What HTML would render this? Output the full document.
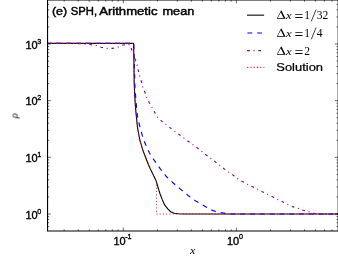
<!DOCTYPE html><html><head><meta charset="utf-8"><style>html,body{margin:0;padding:0;background:#fff}svg{display:block}text{font-family:"Liberation Sans",sans-serif;fill:#000}.s{font-family:"Liberation Serif",serif}</style></head><body>
<svg width="338" height="260" viewBox="0 0 338 260">
<rect width="338" height="260" fill="#fff"/>
<g fill="none" stroke-linejoin="round">
<path d="M47.00 43.40 L133.60 43.40 L133.90 60.00 L134.20 84.00 L135.00 100.00 L135.90 112.00 L137.40 126.80 L139.80 140.00 L143.40 151.80 L148.10 163.70 L150.00 168.30 L153.90 176.30 L156.20 181.00 L158.60 189.30 L160.10 194.00 L162.40 199.90 L164.80 205.20 L167.80 208.80 L170.70 211.75 L174.30 213.20 L178.40 213.80 L183.00 214.00 L338.00 214.00" stroke="#000" stroke-width="1.1"/>
<path d="M47.00 43.40 L133.80 43.40 L134.20 60.00 L135.00 88.00 L135.70 97.00 L136.50 107.00 L137.40 116.10 L139.60 125.60 L142.20 135.10 L145.40 144.10 L149.50 153.00 L154.50 160.70 L160.30 168.80 L166.30 176.50 L173.00 182.80 L180.40 189.10 L188.10 195.50 L195.80 201.10 L204.30 205.90 L212.50 210.40 L217.00 211.80 L221.60 212.70 L226.00 213.50 L230.00 214.00 L338.00 214.00" stroke="#0000ff" stroke-width="1.15" stroke-dasharray="4.9 4.9" stroke-dashoffset="0.50"/>
<path d="M47.00 43.40 L75.00 43.40 L80.00 43.70 L88.00 44.30 L96.50 45.50 L101.00 47.20 L106.80 48.40 L112.80 48.40 L118.00 47.00 L123.00 45.00 L128.50 44.50 L130.30 45.20 L131.50 49.00 L133.30 54.00 L135.30 59.60 L137.10 65.20 L138.40 70.80 L139.80 76.10 L141.30 81.40 L142.80 87.00 L144.90 92.30 L146.70 97.40 L149.00 102.30 L152.00 107.30 L154.70 112.40 L157.50 117.30 L161.40 120.90 L165.70 124.40 L170.40 128.00 L174.90 131.40 L179.50 134.70 L183.80 138.00 L188.50 141.50 L197.40 148.00 L206.20 155.00 L215.10 161.60 L224.00 168.70 L228.30 171.80 L233.00 175.10 L237.40 178.60 L242.50 181.50 L247.50 184.30 L252.50 186.70 L257.30 189.10 L262.30 191.70 L267.40 194.20 L272.50 196.80 L277.50 199.40 L282.50 201.80 L287.50 204.20 L292.50 206.60 L297.70 208.20 L303.30 210.20 L308.30 211.70 L313.70 213.30 L318.00 214.00 L338.00 214.00" stroke="#8b008b" stroke-width="1.15" stroke-dasharray="2.7 3.75 1 3.8" stroke-dashoffset="2.52"/>
<path d="M47.00 43.40 L133.60 43.40 L133.90 60.00 L134.20 84.00 L135.00 100.00 L135.90 112.00 L137.40 126.80 L139.80 140.00 L143.40 151.80 L148.10 163.70 L150.00 168.30 L153.90 176.30 L156.50 181.50 L156.50 214.00 L338.00 214.00" stroke="#ff0000" stroke-width="0.95" stroke-dasharray="1.0 2.26"/>
</g>
<g stroke="#000" stroke-width="1.08" fill="none">
<path d="M47.55 0 V230.95 H338.20 V0"/>
<path d="M47.55 -0.15 H338.20"/>
</g>
<path d="M64.16 230.95 v-1.65 M64.16 0.00 v1.65 M78.29 230.95 v-1.65 M78.29 0.00 v1.65 M89.25 230.95 v-1.65 M89.25 0.00 v1.65 M98.21 230.95 v-1.65 M98.21 0.00 v1.65 M105.78 230.95 v-1.65 M105.78 0.00 v1.65 M112.34 230.95 v-1.65 M112.34 0.00 v1.65 M118.12 230.95 v-1.65 M118.12 0.00 v1.65 M123.30 230.95 v-3.30 M123.30 0.00 v3.30 M157.35 230.95 v-1.65 M157.35 0.00 v1.65 M177.26 230.95 v-1.65 M177.26 0.00 v1.65 M191.39 230.95 v-1.65 M191.39 0.00 v1.65 M202.35 230.95 v-1.65 M202.35 0.00 v1.65 M211.31 230.95 v-1.65 M211.31 0.00 v1.65 M218.88 230.95 v-1.65 M218.88 0.00 v1.65 M225.44 230.95 v-1.65 M225.44 0.00 v1.65 M231.22 230.95 v-1.65 M231.22 0.00 v1.65 M236.40 230.95 v-3.30 M236.40 0.00 v3.30 M270.45 230.95 v-1.65 M270.45 0.00 v1.65 M290.36 230.95 v-1.65 M290.36 0.00 v1.65 M304.49 230.95 v-1.65 M304.49 0.00 v1.65 M315.45 230.95 v-1.65 M315.45 0.00 v1.65 M324.41 230.95 v-1.65 M324.41 0.00 v1.65 M331.98 230.95 v-1.65 M331.98 0.00 v1.65 M47.55 226.57 h1.65 M338.20 226.57 h-1.65 M47.55 222.78 h1.65 M338.20 222.78 h-1.65 M47.55 219.49 h1.65 M338.20 219.49 h-1.65 M47.55 216.59 h1.65 M338.20 216.59 h-1.65 M47.55 214.00 h3.30 M338.20 214.00 h-3.30 M47.55 196.94 h1.65 M338.20 196.94 h-1.65 M47.55 186.96 h1.65 M338.20 186.96 h-1.65 M47.55 179.88 h1.65 M338.20 179.88 h-1.65 M47.55 174.39 h1.65 M338.20 174.39 h-1.65 M47.55 169.90 h1.65 M338.20 169.90 h-1.65 M47.55 166.11 h1.65 M338.20 166.11 h-1.65 M47.55 162.82 h1.65 M338.20 162.82 h-1.65 M47.55 159.92 h1.65 M338.20 159.92 h-1.65 M47.55 157.33 h3.30 M338.20 157.33 h-3.30 M47.55 140.27 h1.65 M338.20 140.27 h-1.65 M47.55 130.29 h1.65 M338.20 130.29 h-1.65 M47.55 123.21 h1.65 M338.20 123.21 h-1.65 M47.55 117.72 h1.65 M338.20 117.72 h-1.65 M47.55 113.23 h1.65 M338.20 113.23 h-1.65 M47.55 109.44 h1.65 M338.20 109.44 h-1.65 M47.55 106.15 h1.65 M338.20 106.15 h-1.65 M47.55 103.25 h1.65 M338.20 103.25 h-1.65 M47.55 100.66 h3.30 M338.20 100.66 h-3.30 M47.55 83.60 h1.65 M338.20 83.60 h-1.65 M47.55 73.62 h1.65 M338.20 73.62 h-1.65 M47.55 66.54 h1.65 M338.20 66.54 h-1.65 M47.55 61.05 h1.65 M338.20 61.05 h-1.65 M47.55 56.56 h1.65 M338.20 56.56 h-1.65 M47.55 52.77 h1.65 M338.20 52.77 h-1.65 M47.55 49.48 h1.65 M338.20 49.48 h-1.65 M47.55 46.58 h1.65 M338.20 46.58 h-1.65 M47.55 43.99 h3.30 M338.20 43.99 h-3.30 M47.55 26.93 h1.65 M338.20 26.93 h-1.65 M47.55 16.95 h1.65 M338.20 16.95 h-1.65 M47.55 9.87 h1.65 M338.20 9.87 h-1.65 M47.55 4.38 h1.65 M338.20 4.38 h-1.65" stroke="#000" stroke-width="0.6" fill="none"/>
<g style="will-change:transform;opacity:0.999" stroke="#000" stroke-width="0.35">
<text transform="translate(25.50,218.65) scale(1.100,1.000)" font-size="10.00">10</text><text transform="translate(37.30,213.55) scale(1.000,1.000)" font-size="7.20">0</text>
<text transform="translate(25.50,161.98) scale(1.100,1.000)" font-size="10.00">10</text><text transform="translate(37.30,156.88) scale(1.000,1.000)" font-size="7.20">1</text>
<text transform="translate(25.50,105.31) scale(1.100,1.000)" font-size="10.00">10</text><text transform="translate(37.30,100.21) scale(1.000,1.000)" font-size="7.20">2</text>
<text transform="translate(25.50,48.64) scale(1.100,1.000)" font-size="10.00">10</text><text transform="translate(37.30,43.54) scale(1.000,1.000)" font-size="7.20">3</text>
<text transform="translate(113.50,244.50) scale(1.100,1.000)" font-size="10.00">10</text><text transform="translate(125.20,239.40) scale(1.000,1.000)" font-size="7.20">-1</text>
<text transform="translate(227.00,244.50) scale(1.100,1.000)" font-size="10.00">10</text><text transform="translate(239.10,239.40) scale(1.000,1.000)" font-size="7.20">0</text>
<text transform="translate(51.90,15.40) scale(1.090,1.000)" font-size="11.50" stroke-width="0.45">(e)</text>
<text transform="translate(70.80,15.40) scale(0.980,1.000)" font-size="11.50" stroke-width="0.45">SPH,</text>
<text transform="translate(99.20,15.40) scale(1.140,1.000)" font-size="11.50" stroke-width="0.45">Arithmetic</text>
<text transform="translate(162.50,15.40) scale(1.110,1.000)" font-size="11.50" stroke-width="0.45">mean</text>
<text transform="translate(276.30,71.25) scale(1.135,1.000)" font-size="11.40" stroke-width="0.25">Solution</text>
</g>
<g fill="none">
<path d="M247 15.15 H264.1" stroke="#000" stroke-width="1.08"/>
<path d="M247.4 33.00 H264.1" stroke="#0000ff" stroke-width="1.1" stroke-dasharray="4.9 4.9"/>
<path d="M247.1 50.60 H264.1" stroke="#8b008b" stroke-width="1.1" stroke-dasharray="2.7 3.75 1 3.8"/>
<path d="M247.3 67.35 H264.3" stroke="#ff0000" stroke-width="1.1" stroke-dasharray="1.0 2.26"/>
</g>
<g style="will-change:transform;opacity:0.999">
<text transform="translate(190.00,254.20) scale(1.200,1.000)" font-size="10.00" class="s" font-style="italic">x</text>
<text class="s" transform="translate(17.6,118.3) rotate(-90)" font-size="10.5" font-style="italic">ρ</text>
<path transform="translate(276.8,18.70)" fill="#000" fill-rule="evenodd" d="M0 0 L4.2 -8.2 L4.7 -8.2 L8.8 0 Z M1.0 -0.8 L6.8 -0.8 L3.94 -6.55 Z"/>
<text transform="translate(286.00,18.70) scale(1.200,1.000)" font-size="10.60" class="s" font-style="italic">x</text>
<text transform="translate(294.60,21.80) scale(1.360,1.500)" font-size="11.50" class="s">=</text>
<text transform="translate(304.30,18.70) scale(1.000,1.000)" font-size="11.50" class="s">1</text>
<path d="M311.30 21.30 L316.10 9.50" stroke="#000" stroke-width="0.75" fill="none"/>
<text transform="translate(316.70,18.70) scale(1.000,1.000)" font-size="11.50" class="s">3</text>
<text transform="translate(322.40,18.70) scale(1.000,1.000)" font-size="11.50" class="s">2</text>
<path transform="translate(276.8,36.70)" fill="#000" fill-rule="evenodd" d="M0 0 L4.2 -8.2 L4.7 -8.2 L8.8 0 Z M1.0 -0.8 L6.8 -0.8 L3.94 -6.55 Z"/>
<text transform="translate(286.00,36.70) scale(1.200,1.000)" font-size="10.60" class="s" font-style="italic">x</text>
<text transform="translate(294.60,39.80) scale(1.360,1.500)" font-size="11.50" class="s">=</text>
<text transform="translate(304.30,36.70) scale(1.000,1.000)" font-size="11.50" class="s">1</text>
<path d="M311.30 39.30 L316.10 27.50" stroke="#000" stroke-width="0.75" fill="none"/>
<text transform="translate(316.70,36.70) scale(1.000,1.000)" font-size="11.50" class="s">4</text>
<path transform="translate(276.8,54.70)" fill="#000" fill-rule="evenodd" d="M0 0 L4.2 -8.2 L4.7 -8.2 L8.8 0 Z M1.0 -0.8 L6.8 -0.8 L3.94 -6.55 Z"/>
<text transform="translate(286.00,54.70) scale(1.200,1.000)" font-size="10.60" class="s" font-style="italic">x</text>
<text transform="translate(294.60,57.80) scale(1.360,1.500)" font-size="11.50" class="s">=</text>
<text transform="translate(304.30,54.70) scale(1.000,1.000)" font-size="11.50" class="s">2</text>
</g>
</svg></body></html>
